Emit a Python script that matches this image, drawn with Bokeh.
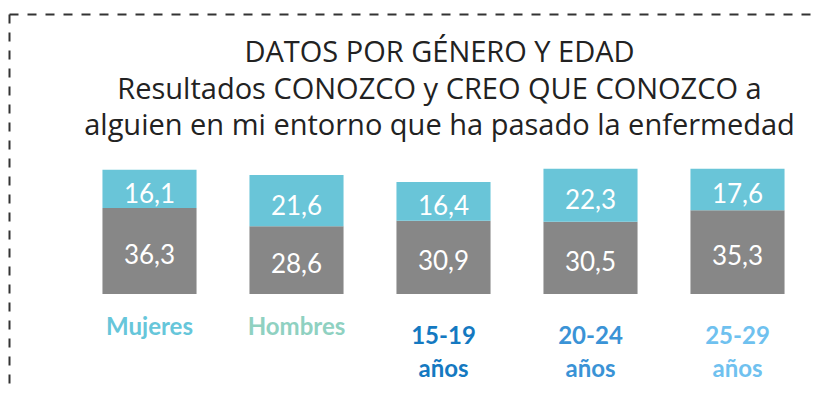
import numpy as np
from bokeh.plotting import figure
from bokeh.models import Range1d
from bokeh.embed import file_html
from bokeh.resources import INLINE
from bokeh.core.properties import value

# ---- data ----
title_lines = [
    "DATOS POR GÉNERO Y EDAD",
    "Resultados CONOZCO y CREO QUE CONOZCO a",
    "alguien en mi entorno que ha pasado la enfermedad",
]
categories = ["Mujeres", "Hombres", "15-19\naños", "20-24\naños", "25-29\naños"]
conozco = [36.3, 28.6, 30.9, 30.5, 35.3]
creo_que_conozco = [16.1, 21.6, 16.4, 22.3, 17.6]
label_colors = ["#66c6da", "#8fd1c1", "#1479c1", "#3a93d6", "#6fc1ef"]

W, H = 816, 392
FONT = value("Lato")

xi = np.arange(len(categories))
bottom_vals = np.array(conozco)
top_vals = bottom_vals + np.array(creo_que_conozco)

X0, STEP = 149, 147      # pixel position of first bar centre, spacing
Y0, PPU = 98.5, 2.37     # pixel height of baseline above bottom, px per unit

p = figure(width=W, height=H, output_backend="svg", toolbar_location=None,
           x_range=Range1d(-X0 / STEP, (W - X0) / STEP),
           y_range=Range1d(-Y0 / PPU, (H - Y0) / PPU),
           x_axis_location=None, y_axis_location=None, min_border=0)
p.grid.visible = False
p.outline_line_color = None
p.background_fill_color = "white"
p.border_fill_color = "white"
p.extra_x_ranges = {"px": Range1d(0, W)}
p.extra_y_ranges = {"px": Range1d(H, 0)}

# dashed border (decorative)
p.segment(x0=[9, 9], y0=[14, 14], x1=[9, W + 20], y1=[H + 20, 14],
          x_range_name="px", y_range_name="px",
          line_color="#333333", line_width=2, line_dash="9 9")

# bars
p.vbar(x=xi, bottom=0, top=bottom_vals, width=0.64, fill_color="#878787", line_color=None)
p.vbar(x=xi, bottom=bottom_vals, top=top_vals, width=0.64, fill_color="#69c5d8", line_color=None)

fmt = lambda v: f"{v:.1f}".replace(".", ",")
p.text(x=xi, y=bottom_vals / 2, text=[fmt(v) for v in conozco],
       text_font=FONT, text_font_size="26px", text_color="white",
       text_align="center", text_baseline="middle", y_offset=3)
p.text(x=xi, y=bottom_vals + np.array(creo_que_conozco) / 2, text=[fmt(v) for v in creo_que_conozco],
       text_font=FONT, text_font_size="26px", text_color="white",
       text_align="center", text_baseline="middle", y_offset=4)

# category labels
p.text(x=xi, y=[310, 310, 319, 319, 319], text=categories, y_range_name="px",
       text_font=FONT, text_font_size="24px", text_font_style="bold",
       text_color=label_colors, text_align="center", text_baseline="top",
       text_line_height=1.15)

# title
p.text(x=[439] * 3, y=[50, 87, 123], text=title_lines,
       x_range_name="px", y_range_name="px",
       text_font=value("Open Sans"), text_font_size="29px", text_color="#222222",
       text_align="center", text_baseline="middle")

open("out.html", "w").write(file_html(p, INLINE))
